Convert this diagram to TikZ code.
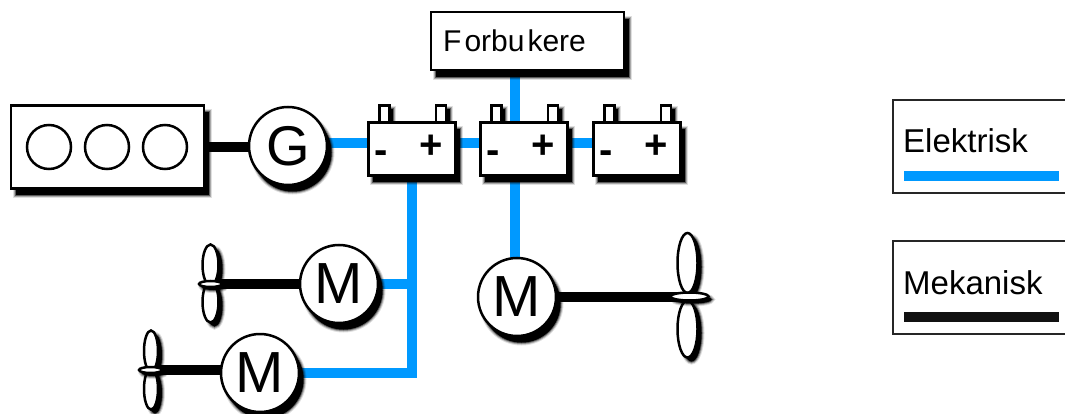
\documentclass[tikz,border=0pt]{standalone}
\usepackage{fontspec}
\setmainfont{Liberation Sans}
\usetikzlibrary{shadows,shapes.geometric}
\definecolor{elecblue}{HTML}{0099FF}
\definecolor{mechblack}{HTML}{111111}
\pgfdeclarelayer{wires}
\pgfsetlayers{wires,main}
\newcommand{\fsz}[1]{\fontsize{#1}{#1}\selectfont}
\tikzset{
  softshadow/.style 2 args={
    general shadow={shadow xshift=#1pt,shadow yshift=-#2pt,fill=black,draw=black,line width=6pt,opacity=.12},
    general shadow={shadow xshift=#1pt,shadow yshift=-#2pt,fill=black,draw=black,line width=4pt,opacity=.25},
    general shadow={shadow xshift=#1pt,shadow yshift=-#2pt,fill=black,draw=black,line width=2pt,opacity=.45},
    general shadow={shadow xshift=#1pt,shadow yshift=-#2pt,fill=black,draw=none,opacity=1}},
  part/.style={draw=black,fill=white,line width=2.5pt,inner sep=0pt,outer sep=0pt},
  boxnode/.style={part,rectangle,softshadow={4.5}{7}},
  machine/.style={part,circle,minimum size=78pt,softshadow={4.5}{6.5}},
  cylinder hole/.style={part,circle,minimum size=44pt},
  terminal/.style={part,rectangle,minimum width=10pt,minimum height=17pt,softshadow={3.5}{3.5}},
  battery/.style={boxnode,minimum width=87pt,minimum height=53pt},
  sign/.style={inner sep=0pt,font=\fsz{40}\bfseries},
  blade/.style={part,ellipse,softshadow={4}{4}},
  hub/.style={part,ellipse,softshadow={3}{3}},
  elec/.style={draw=elecblue,line width=10pt},
  mech/.style={draw=black,line width=10pt},
  legendbox/.style={draw=black!85,line width=2.5pt},
  legendtext/.style={anchor=base west,inner sep=0pt,font=\fsz{33}}
}
\begin{document}
\begin{tikzpicture}[x=1pt,y=-1pt]
\useasboundingbox (0,0) rectangle (1065,414);
% engine
\node[boxnode,minimum width=193pt,minimum height=83pt] (engine) at (107.5,147) {};
\node[cylinder hole] (c1) at (49,147) {};
\node[cylinder hole] (c2) at (107,147) {};
\node[cylinder hole] (c3) at (165,147) {};
% generator and motors
\node[machine,font=\fsz{56}] (gen) at (288,146) {G};
\node[machine,font=\fsz{58}] (m1) at (339,284) {M};
\node[machine,font=\fsz{58}] (m2) at (260,373) {M};
\node[machine,font=\fsz{58}] (m3) at (517,297) {M};
% consumer
\node[boxnode,minimum width=193pt,minimum height=58pt] (cons) at (527.5,41) {};
\node[anchor=base west,inner sep=0pt,font=\fsz{30}] (constext) at (443,52) {F\kern3pt orbu\kern3pt kere};
% batteries
\foreach \n/\x in {a/412,b/524,c/637}{
  \node[terminal] (\n tl) at (\x-27.5,114) {};
  \node[terminal] (\n tr) at (\x+29,114) {};
  \node[battery] (\n) at (\x,149) {};
  \node[sign] (\n minus) at (\x-31,157) {-};
  \node[sign] (\n plus) at (\x+19,147) {+};
}
% propellers
\node[blade,minimum width=16pt,minimum height=41pt] (p1t) at (210.5,265) {};
\node[blade,minimum width=16pt,minimum height=41pt] (p1b) at (210.5,302) {};
\node[hub,minimum width=23pt,minimum height=6pt] (p1) at (210.5,284) {};
\node[blade,minimum width=14pt,minimum height=41pt] (p2t) at (151,351) {};
\node[blade,minimum width=14pt,minimum height=41pt] (p2b) at (151,389) {};
\node[hub,minimum width=23pt,minimum height=6pt] (p2) at (150.5,370) {};
\node[blade,minimum width=20pt,minimum height=60pt] (p3t) at (687.5,263) {};
\node[blade,minimum width=20pt,minimum height=57pt] (p3b) at (687.5,329) {};
\node[hub,minimum width=38pt,minimum height=8pt] (p3) at (689.5,296.5) {};
% junctions
\coordinate (j1) at (412,284);
\coordinate (j2) at (412,373);
% connectors under everything
\begin{pgfonlayer}{wires}
  \draw[mech] (engine.east) -- (gen.west |- engine.east);
  \draw[mech] (m1.west |- p1.center) -- (p1.center);
  \draw[mech] (m2.west |- p2.center) -- (p2.center);
  \draw[mech] (m3.east |- p3.center) -- (p3.center);
  \draw[elec] (gen.east |- 0,143) -- (a.west |- 0,143);
  \draw[elec] (a.east |- 0,143) -- (b.west |- 0,143);
  \draw[elec] (b.east |- 0,143) -- (c.west |- 0,143);
  \draw[elec] (cons.south -| 515,0) -- (b.north -| 515,0);
  \draw[elec] (b.south -| 515,0) -- (m3.north -| 515,0);
  \draw[elec] (a.south) -- (j1) -- (j2);
  \draw[elec] (j2 -| m2.east) -- (417,373);
  \draw[elec] (m1.east) -- (j1);
\end{pgfonlayer}
% legend
\draw[legendbox] (1065,100) -- (893,100) -- (893,193) -- (1065,193);
\node[legendtext] (le) at (903,153) {Elektrisk};
\coordinate (le1) at (904,176);
\coordinate (le2) at (1059,176);
\draw[elec] (le1) -- (le2);
\draw[legendbox] (1065,241) -- (893,241) -- (893,334) -- (1065,334);
\node[legendtext] (lm) at (903,294) {Mekanisk};
\coordinate (lm1) at (904,317);
\coordinate (lm2) at (1059,317);
\draw[draw=mechblack,line width=10pt] (lm1) -- (lm2);
\end{tikzpicture}
\end{document}
